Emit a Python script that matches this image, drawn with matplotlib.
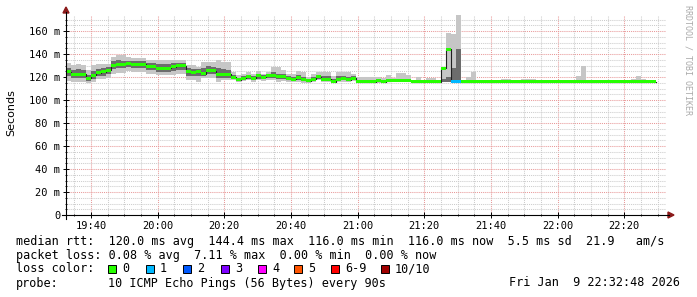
import numpy as np
import matplotlib
matplotlib.use("Agg")
import matplotlib.pyplot as plt
from matplotlib.patches import Rectangle, Polygon
from matplotlib.lines import Line2D

# one value per 90 s step, starting 19:32:30
median = [
    124.6, 122.6, 122.6, 122.6, 118.8, 121.7, 123.7, 124.6, 126.0, 130.4,
    131.0, 131.0, 131.9, 131.3, 131.3, 131.3, 129.0, 129.0, 127.5, 127.5,
    127.5, 129.0, 129.6, 129.6, 124.6, 124.0, 124.6, 123.0, 126.0, 125.5,
    122.6, 122.6, 122.6, 119.7, 117.4, 118.8, 120.3, 118.8, 120.9, 119.7,
    121.7, 120.9, 120.3, 120.3, 118.3, 118.0, 119.4, 117.4, 116.8, 118.0,
    120.3, 118.0, 118.0, 116.0, 118.0, 118.8, 117.4, 118.8, 116.0, 116.0,
    116.0, 116.0, 116.8, 116.0, 116.8, 117.0, 117.0, 117.0, 117.0, 116.0,
    116.0, 116.0, 116.0, 116.0, 116.0, 127.5, 144.3, 116.0, 116.0, 116.0,
    116.0, 116.0, 116.0, 116.0, 116.0, 116.0, 116.0, 116.0, 116.0, 116.0,
    116.0, 116.0, 116.0, 116.0, 116.0, 116.0, 116.0, 116.0, 116.0, 116.0,
    116.0, 116.0, 116.0, 116.0, 116.0, 116.0, 116.0, 116.0, 116.0, 116.0,
    116.0, 116.0, 116.0, 116.0, 116.0, 116.0, 116.0, 116.0,
]
ping_max = [
    132.4, 130.4, 131.3, 130.4, 126.0, 130.4, 131.3, 131.3, 131.3, 137.7,
    139.0, 139.0, 137.0, 136.5, 136.5, 136.5, 135.0, 135.0, 134.8, 134.8,
    134.8, 134.8, 134.8, 134.8, 130.4, 130.4, 129.0, 133.3, 133.3, 133.3,
    134.8, 133.3, 133.3, 124.6, 121.7, 123.0, 124.6, 123.0, 125.0, 123.0,
    124.6, 129.0, 129.0, 126.0, 123.0, 123.0, 125.5, 124.6, 120.3, 123.0,
    124.6, 124.6, 124.6, 121.0, 124.6, 124.0, 124.0, 123.0, 120.3, 120.3,
    120.3, 120.3, 120.3, 118.8, 121.7, 118.8, 123.7, 123.7, 121.7, 117.4,
    120.3, 117.4, 118.8, 118.8, 117.4, 128.0, 158.5, 157.4, 173.9, 116.5,
    120.3, 124.6, 116.5, 116.5, 116.5, 116.5, 116.5, 118.0, 118.0, 116.5,
    116.5, 118.0, 118.5, 118.5, 116.5, 116.5, 117.4, 117.4, 117.4, 116.5,
    116.5, 116.5, 120.9, 129.6, 117.4, 116.5, 116.5, 116.5, 116.5, 116.5,
    116.5, 116.5, 116.5, 118.0, 120.9, 118.0, 116.5, 116.5,
]
ping_min = [
    116.8, 116.0, 116.0, 116.0, 114.5, 116.0, 118.0, 118.0, 119.4, 123.0,
    123.7, 123.7, 125.0, 124.6, 124.6, 124.6, 123.0, 123.0, 121.7, 121.7,
    121.7, 121.7, 123.0, 123.0, 117.4, 117.4, 116.0, 118.8, 119.4, 119.4,
    116.0, 117.4, 117.4, 117.4, 116.0, 116.5, 117.4, 116.0, 117.4, 116.5,
    117.4, 117.4, 116.0, 116.5, 116.0, 116.0, 116.0, 115.0, 115.0, 116.0,
    117.4, 116.0, 116.0, 115.0, 116.0, 116.0, 116.0, 116.5, 115.0, 115.0,
    115.0, 115.0, 115.0, 115.0, 115.5, 115.5, 115.5, 115.5, 115.5, 115.5,
    115.5, 115.5, 115.5, 115.5, 115.5, 115.5, 115.5, 115.5, 115.5, 115.5,
    115.5, 115.5, 115.5, 115.5, 115.5, 115.5, 115.5, 115.5, 115.5, 115.5,
    115.5, 115.5, 115.5, 115.5, 115.5, 115.5, 115.5, 115.5, 115.5, 115.5,
    115.5, 115.5, 115.5, 115.5, 115.5, 115.5, 115.5, 115.5, 115.5, 115.5,
    115.5, 115.5, 115.5, 115.5, 115.5, 115.5, 115.5, 115.5,
]
inner_hi = [
    128.0, 126.5, 127.0, 126.0, 122.0, 125.5, 127.0, 128.0, 129.0, 134.0,
    134.5, 134.0, 134.0, 134.0, 133.5, 133.5, 132.5, 132.0, 131.0, 131.0,
    131.0, 132.0, 132.5, 132.5, 127.5, 127.0, 127.0, 128.0, 129.5, 129.0,
    127.5, 127.0, 126.5, 121.5, 119.5, 121.0, 122.0, 121.0, 123.0, 121.5,
    123.0, 124.0, 123.0, 122.5, 120.5, 120.0, 122.0, 120.0, 118.5, 120.0,
    122.0, 120.5, 120.5, 118.0, 120.5, 121.0, 120.0, 120.5, 117.5, 117.5,
    117.5, 117.5, 118.0, 117.0, 118.0, 117.5, 118.0, 118.5, 118.5, 116.5,
    117.0, 116.5, 116.5, 116.5, 116.5, 118.0, 120.0, 127.5, 144.3, 116.0,
    116.0, 116.0, 116.0, 116.0, 116.0, 116.0, 116.0, 116.0, 116.0, 116.0,
    116.0, 116.0, 116.0, 116.0, 116.0, 116.0, 116.0, 116.0, 116.0, 116.0,
    116.0, 116.0, 116.0, 116.0, 116.0, 116.0, 116.0, 116.0, 116.0, 116.0,
    116.0, 116.0, 116.0, 116.0, 116.0, 116.0, 116.0, 116.0,
]
inner_lo = [
    120.5, 119.5, 119.5, 119.5, 116.5, 118.5, 120.5, 121.0, 122.5, 127.0,
    127.5, 127.5, 128.5, 128.0, 128.0, 128.0, 126.0, 126.0, 124.5, 124.5,
    124.5, 125.5, 126.0, 126.0, 120.5, 120.5, 120.5, 120.5, 122.5, 122.5,
    119.5, 119.5, 119.5, 118.0, 116.5, 117.5, 118.5, 117.5, 118.5, 118.0,
    119.0, 119.0, 118.0, 118.0, 117.0, 117.0, 117.5, 116.5, 116.0, 116.5,
    118.5, 116.5, 116.5, 115.5, 116.5, 117.0, 116.5, 117.0, 115.5, 115.5,
    115.5, 115.5, 116.0, 115.5, 116.0, 116.0, 116.0, 116.0, 116.0, 115.5,
    115.5, 115.5, 115.5, 115.5, 115.5, 116.0, 116.0, 116.0, 116.0, 115.5,
    115.5, 115.5, 115.5, 115.5, 115.5, 115.5, 115.5, 115.5, 115.5, 115.5,
    115.5, 115.5, 115.5, 115.5, 115.5, 115.5, 115.5, 115.5, 115.5, 115.5,
    115.5, 115.5, 115.5, 115.5, 115.5, 115.5, 115.5, 115.5, 115.5, 115.5,
    115.5, 115.5, 115.5, 115.5, 115.5, 115.5, 115.5, 115.5,
]
loss = [
    0, 0, 0, 0, 0, 0, 0, 0, 0, 0,
    0, 0, 0, 0, 0, 0, 0, 0, 0, 0,
    0, 0, 0, 0, 0, 0, 0, 0, 0, 0,
    0, 0, 0, 0, 0, 0, 0, 0, 0, 0,
    0, 0, 0, 0, 0, 0, 0, 0, 0, 0,
    0, 0, 0, 0, 0, 0, 0, 0, 0, 0,
    0, 0, 0, 0, 0, 0, 0, 0, 0, 0,
    0, 0, 0, 0, 0, 0, 0, 1, 1, 0,
    0, 0, 0, 0, 0, 0, 0, 0, 0, 0,
    0, 0, 0, 0, 0, 0, 0, 0, 0, 0,
    0, 0, 0, 0, 0, 0, 0, 0, 0, 0,
    0, 0, 0, 0, 0, 0, 0, 0,
]

time_labels = ['19:40', '20:00', '20:20', '20:40', '21:00', '21:20', '21:40', '22:00', '22:20']
y_ticks = [0, 20, 40, 60, 80, 100, 120, 140, 160]
y_labels = ['0', '20 m', '40 m', '60 m', '80 m', '100 m', '120 m', '140 m', '160 m']
loss_names = ['0', '1', '2', '3', '4', '5', '6-9', '10/10']
loss_colors = ['#26ff00', '#00b8ff', '#0059ff', '#7e00ff', '#ff00ff', '#ff5500', '#ff0000', '#a00000']

W, H = 697, 297
MONO = 'DejaVu Sans Mono'

def fx(x):
    return x / W

def fy(y):
    return 1 - y / H

fig = plt.figure(figsize=(W / 100, H / 100), dpi=100)
fig.patch.set_facecolor('white')

# plot area: x 66..666 px, y 15..215 px ; 600 px = 180 min, 200 px = 200/1.15 ms
ax = fig.add_axes([fx(66), fy(215), 600 / W, 200 / H])
ax.set_xlim(0, 180)
ax.set_ylim(0, 200 / 1.15)
for s in ax.spines.values():
    s.set_visible(False)

step = 1.5
x = np.arange(len(median)) * step
med = np.array(median)

ax.bar(x, np.array(ping_max) - np.array(ping_min), bottom=ping_min, width=step,
       align='edge', color='#c6c6c6', linewidth=0, antialiased=False, zorder=2)
ax.bar(x, np.array(inner_hi) - np.array(inner_lo), bottom=inner_lo, width=step,
       align='edge', color='#6c6c6c', linewidth=0, antialiased=False, zorder=3)
ax.step(np.append(x, x[-1] + step), np.append(med, med[-1]), where='post',
        color='#202020', lw=0.8, zorder=4)
ax.bar(x, 2.6, bottom=med - 1.3, width=step, align='edge',
       color=[loss_colors[l] for l in loss], linewidth=0, antialiased=False, zorder=5)

major_x = np.arange(7.5, 180, 20)
minor_x = [t for t in np.arange(2.5, 180, 5) if (t - 7.5) % 20 != 0]
minor_y = [v for v in np.arange(5, 174, 5) if v % 20 != 0]
ax.set_xticks(major_x)
ax.set_xticklabels(time_labels)
ax.set_xticks(minor_x, minor=True)
ax.set_yticks(y_ticks)
ax.set_yticklabels(y_labels)
ax.set_yticks(minor_y, minor=True)
ax.set_axisbelow(True)
ax.grid(which='minor', color='#cccccc', linestyle=(0, (1, 1)), lw=0.75)
ax.grid(which='major', color='#e89999', linestyle=(0, (1, 1)), lw=0.75)
ax.tick_params(which='major', direction='inout', length=4, width=0.7, color='black',
               labelsize=7.5, pad=2)
ax.tick_params(which='minor', direction='inout', length=2, width=0.6, color='black')
for lab in ax.get_xticklabels() + ax.get_yticklabels():
    lab.set_family(MONO)

# axes with arrows
fig.add_artist(Line2D([fx(62), fx(669)], [fy(215), fy(215)], color='black', lw=0.8))
fig.add_artist(Line2D([fx(66), fx(66)], [fy(219), fy(12)], color='black', lw=0.8))
fig.add_artist(Polygon([(fx(63), fy(13)), (fx(69), fy(13)), (fx(66), fy(7))],
                       closed=True, color='#8b1a1a'))
fig.add_artist(Polygon([(fx(668), fy(212)), (fx(668), fy(218)), (fx(674), fy(215))],
                       closed=True, color='#8b1a1a'))

fig.text(fx(11), fy(113), 'Seconds', rotation=90, ha='center', va='center',
         fontsize=8, family='DejaVu Sans')
fig.text(fx(688), fy(5), 'RRDTOOL / TOBI OETIKER', rotation=270, ha='center', va='top',
         fontsize=6, family=MONO, color='#aaaaaa')

# legend
fig.text(fx(16), fy(241), 'median rtt:  120.0 ms avg  144.4 ms max  116.0 ms min  116.0 ms now  5.5 ms sd  21.9   am/s',
         family=MONO, fontsize=8.5, va='center')
fig.text(fx(16), fy(255), 'packet loss: 0.08 % avg  7.11 % max  0.00 % min  0.00 % now',
         family=MONO, fontsize=8.5, va='center')
fig.text(fx(16), fy(269), 'loss color:', family=MONO, fontsize=8.5, va='center')
box_x = [108, 146, 183, 221, 258, 294, 331, 381]
for bx, name, col in zip(box_x, loss_names, loss_colors):
    fig.add_artist(Rectangle((fx(bx), fy(273)), 8 / W, 8 / H, facecolor=col,
                             edgecolor='black', lw=0.7))
    fig.text(fx(bx + 14), fy(269), name, family=MONO, fontsize=8.5, va='center')
fig.text(fx(16), fy(283), 'probe:', family=MONO, fontsize=8.5, va='center')
fig.text(fx(108), fy(283), '10 ICMP Echo Pings (56 Bytes) every 90s', family=MONO,
         fontsize=8.5, va='center')
fig.text(fx(680), fy(283), 'Fri Jan  9 22:32:48 2026', family=MONO, fontsize=8.5,
         va='center', ha='right')

fig.savefig('out.png', dpi=100, facecolor='white')
